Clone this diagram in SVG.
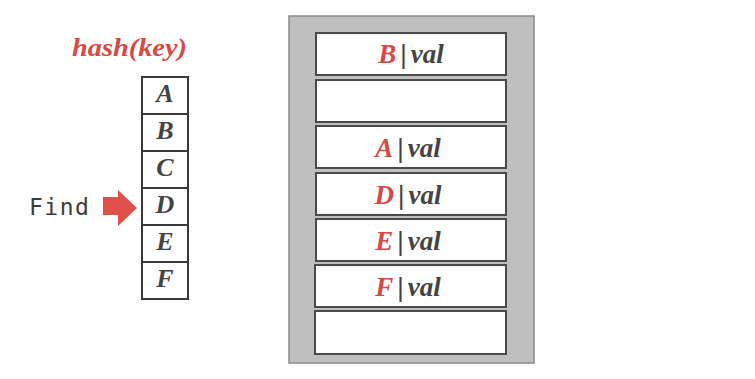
<svg xmlns="http://www.w3.org/2000/svg" width="755" height="379" viewBox="0 0 755 379">
<style>
.cell{fill:#fff;stroke:#3a3a3a;stroke-width:2}
.row{fill:#fff;stroke:#4a4a4a;stroke-width:2}
.key{font-family:"Liberation Serif",serif;font-weight:bold;font-style:italic;font-size:26px;fill:#444;text-anchor:middle}
.ent{font-family:"Liberation Serif",serif;font-weight:bold;font-style:italic;font-size:27px;fill:#444;text-anchor:middle}
.red{fill:#d94845}
.bar{font-family:"DejaVu Sans",sans-serif;font-style:normal;font-weight:normal;font-size:25px;fill:#444}
</style>
<rect width="755" height="379" fill="#fff"/>
<text x="72" y="56" font-family="Liberation Serif,serif" font-weight="bold" font-style="italic" font-size="25" fill="#d94845" textLength="115" lengthAdjust="spacingAndGlyphs">hash(key)</text>
<g id="hash-column">
<rect class="cell" x="142" y="77" width="46" height="37"/>
<rect class="cell" x="142" y="114" width="46" height="37"/>
<rect class="cell" x="142" y="151" width="46" height="37"/>
<rect class="cell" x="142" y="188" width="46" height="37"/>
<rect class="cell" x="142" y="225" width="46" height="37"/>
<rect class="cell" x="142" y="262" width="46" height="37"/>
<text class="key" x="165" y="102">A</text>
<text class="key" x="165" y="139">B</text>
<text class="key" x="165" y="176">C</text>
<text class="key" x="165" y="213">D</text>
<text class="key" x="165" y="250">E</text>
<text class="key" x="165" y="287">F</text>
</g>
<g id="find">
<text x="29" y="215" font-family="DejaVu Sans Mono,monospace" font-size="23" letter-spacing="1.5" fill="#3c3c3c">Find</text>
<polygon points="103,197 118,197 118,190 137,208 118,226 118,215 103,215" fill="#e0504a"/>
</g>
<g id="table">
<rect x="289" y="16" width="245" height="347" fill="#bfbfbf" stroke="#8a8a8a" stroke-width="1.5"/>
<rect class="row" x="316" y="33" width="190" height="42"/>
<rect class="row" x="316" y="80" width="190" height="42"/>
<rect class="row" x="316" y="126" width="190" height="42"/>
<rect class="row" x="316" y="173" width="190" height="42"/>
<rect class="row" x="316" y="219" width="190" height="42"/>
<rect class="row" x="315" y="265" width="191" height="42"/>
<rect class="row" x="315" y="311" width="191" height="43"/>
<text class="ent" x="411" y="63"><tspan class="red">B</tspan><tspan class="bar" dx="3">|</tspan><tspan dx="3">val</tspan></text>
<text class="ent" x="408" y="157"><tspan class="red">A</tspan><tspan class="bar" dx="3">|</tspan><tspan dx="3">val</tspan></text>
<text class="ent" x="408" y="204"><tspan class="red">D</tspan><tspan class="bar" dx="3">|</tspan><tspan dx="3">val</tspan></text>
<text class="ent" x="408" y="250"><tspan class="red">E</tspan><tspan class="bar" dx="3">|</tspan><tspan dx="3">val</tspan></text>
<text class="ent" x="408" y="296"><tspan class="red">F</tspan><tspan class="bar" dx="3">|</tspan><tspan dx="3">val</tspan></text>
</g>
</svg>
